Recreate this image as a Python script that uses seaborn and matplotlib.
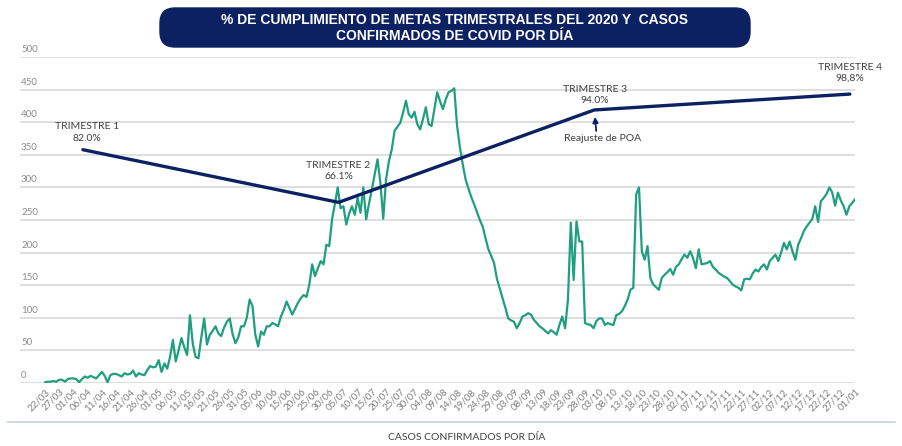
import pandas as pd
import matplotlib.pyplot as plt
import seaborn as sns
from matplotlib.patches import FancyBboxPatch
from matplotlib.lines import Line2D
import matplotlib.transforms as mtransforms

# Casos confirmados por dia (22/03/2020 - 01/01/2021)
casos_mar = [1, 2, 2, 3, 2, 5, 5, 2, 6, 7]
casos_abr = [7, 6, 1, 6, 10, 8, 11, 9, 7, 12, 17, 11, 1, 12, 14, 14, 12, 10, 15, 13,
             14, 19, 10, 15, 13, 12, 20, 26, 24, 25]
casos_may = [35, 17, 30, 22, 40, 66, 33, 50, 69, 55, 43, 104, 60, 40, 38, 70, 99, 59, 74, 80,
             87, 76, 72, 85, 94, 99, 75, 61, 70, 87, 87]
casos_jun = [100, 128, 118, 74, 56, 79, 74, 87, 87, 92, 90, 87, 102, 112, 125, 115, 105, 114, 123, 130,
             135, 132, 151, 182, 164, 176, 187, 182, 212, 210]
casos_jul = [251, 275, 300, 268, 271, 243, 260, 271, 258, 284, 261, 300, 251, 275, 297, 320, 343, 307, 252, 312,
             340, 358, 387, 393, 399, 415, 433, 412, 407, 416, 397]
casos_ago = [389, 405, 423, 397, 394, 420, 446, 432, 420, 435, 446, 448, 452, 394, 361, 335, 312, 298, 285, 274,
             262, 250, 240, 222, 205, 195, 184, 160, 145, 130, 115]
casos_sep = [99, 96, 94, 84, 92, 102, 104, 107, 105, 97, 92, 87, 84, 80, 76, 81, 78, 74, 89, 102,
             84, 128, 246, 158, 248, 217, 217, 92, 90, 89]
casos_oct = [84, 95, 99, 99, 89, 92, 90, 89, 104, 106, 110, 118, 128, 143, 146, 289, 300, 202, 189, 210,
             161, 151, 147, 143, 161, 166, 170, 175, 166, 178, 182]
casos_nov = [190, 197, 192, 202, 192, 176, 205, 182, 183, 184, 187, 178, 174, 169, 166, 163, 161, 156, 151, 148,
             146, 142, 159, 160, 159, 168, 174, 171, 178, 182]
casos_dic = [174, 187, 192, 197, 187, 200, 215, 205, 217, 202, 189, 212, 222, 233, 240, 246, 252, 271, 247, 279,
             284, 290, 300, 292, 272, 292, 280, 271, 258, 271, 276]
casos_ene = [282]

# % de cumplimiento de metas trimestrales
trimestres = ['TRIMESTRE 1', 'TRIMESTRE 2', 'TRIMESTRE 3', 'TRIMESTRE 4']
cumplimiento = [82.0, 66.1, 94.0, 98.8]
etiquetas_cumpl = ['82.0%', '66.1%', '94.0%', '98,8%']

y_ticks = list(range(0, 501, 50))

casos = (casos_mar + casos_abr + casos_may + casos_jun + casos_jul + casos_ago
         + casos_sep + casos_oct + casos_nov + casos_dic + casos_ene)
fechas = pd.date_range('2020-03-22', periods=len(casos), freq='D')
df = pd.DataFrame({'fecha': fechas, 'casos': casos})
df_q = pd.DataFrame({'trimestre': range(len(trimestres)), 'cumplimiento': cumplimiento})

sns.set_style('white')
plt.rcParams['font.family'] = ['Lato', 'DejaVu Sans']

verde = '#1f9e80'
azul = '#0c2162'
gris = '#d9d9d9'

fig = plt.figure(figsize=(9.02, 4.46), dpi=100)
rect = [20 / 902, 63 / 446, 835 / 902, 326 / 446]

# Casos confirmados por dia
ax = fig.add_axes(rect)
sns.lineplot(data=df, x='fecha', y='casos', ax=ax, color=verde, linewidth=1.6)
ax.set_ylim(0, 500)
ax.set_xlim(fechas[0] - pd.Timedelta(days=8.8), fechas[-1])
ax.set_yticks(y_ticks)
ax.set_yticklabels([])
ax.grid(axis='y', color=gris, linewidth=1.2)
ax.set_axisbelow(True)
for s in ax.spines.values():
    s.set_visible(False)
ax.tick_params(length=0)
ax.set_xticks(fechas[::5])
ax.set_xticklabels(fechas[::5].strftime('%d/%m'), rotation=45, ha='right',
                   rotation_mode='anchor', fontsize=7, color='#7f7f7f')
ax.tick_params(axis='x', pad=3)
ax.set_xlabel('')
ax.set_ylabel('')
trans = mtransforms.blended_transform_factory(ax.transAxes, ax.transData)
for v in y_ticks:
    ax.annotate(str(v), xy=(0, v), xycoords=trans, xytext=(1, 3), textcoords='offset pixels',
                ha='left', va='bottom', fontsize=7, color='#8c8c8c')

# Cumplimiento trimestral (eje secundario oculto)
ax_q = fig.add_axes(rect, facecolor='none')
sns.lineplot(data=df_q, x='trimestre', y='cumplimiento', ax=ax_q, color=azul, linewidth=2.4)
ax_q.set_xlim(-0.246, 3.02)
ax_q.set_ylim(11.54, 110.0)
ax_q.set_yticks([])
ax_q.set_xlabel('')
ax_q.set_ylabel('')
for s in ax_q.spines.values():
    s.set_visible(False)
ax_q.spines['bottom'].set_position(('outward', 28))
ax_q.set_xticks([0.5, 1.5, 2.5])
ax_q.set_xticklabels([])
ax_q.tick_params(axis='x', length=3, color='#c9d0da', direction='out')

# linea del eje secundario que cruza todo el grafico
fig.add_artist(Line2D([7 / 902, 895 / 902], [1 - 422 / 446, 1 - 422 / 446],
                      transform=fig.transFigure, color='#c9d0da', linewidth=1.2))

offsets = [(4, 7), (0, 21), (1, 5), (0, 11)]
for i, (t, lab) in enumerate(zip(trimestres, etiquetas_cumpl)):
    ax_q.annotate(t + '\n' + lab, xy=(i, cumplimiento[i]), xytext=offsets[i],
                  textcoords='offset pixels', ha='center', va='bottom',
                  fontsize=7.5, color='#404040', linespacing=1.35)

ax_q.annotate('', xy=(2, cumplimiento[2]), xytext=(2, -21), textcoords='offset pixels',
              arrowprops=dict(arrowstyle='-|>', color=azul, lw=1.3, shrinkA=0, shrinkB=5,
                              mutation_scale=8))
ax_q.annotate('Reajuste de POA', xy=(2, cumplimiento[2]), xytext=(8, -29),
              textcoords='offset pixels', ha='center', va='center', fontsize=7.5, color='#404040')

# Titulo en recuadro redondeado
caja = FancyBboxPatch((1.60, (446 - 47) / 100), 5.90, 0.39,
                      boxstyle='round,pad=0,rounding_size=0.15',
                      transform=fig.dpi_scale_trans, facecolor=azul, edgecolor=azul)
fig.patches.append(caja)
fig.text(455 / 902, 1 - 28 / 446,
         '% DE CUMPLIMIENTO DE METAS TRIMESTRALES DEL 2020 Y  CASOS\nCONFIRMADOS DE COVID POR DÍA',
         ha='center', va='center', color='white', fontsize=10, fontweight='bold',
         family=['Liberation Sans', 'DejaVu Sans'], linespacing=1.15)

fig.text(467 / 902, 1 - 437 / 446, 'CASOS CONFIRMADOS POR DÍA', ha='center', va='center',
         fontsize=7.5, color='#404040')

fig.savefig('out.png', dpi=100)
